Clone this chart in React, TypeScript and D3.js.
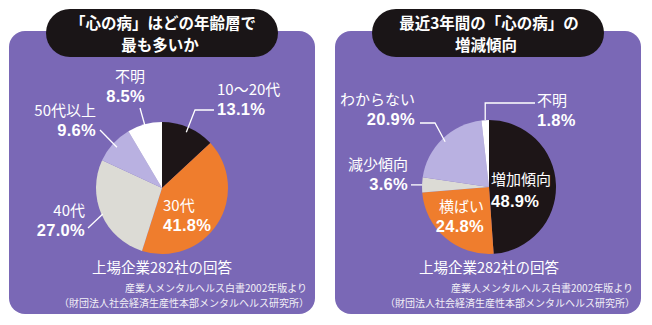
import React from 'react';
import * as d3 from 'd3';

const leftCats = ['10〜20代', '30代', '40代', '50代以上', '不明'];
const leftValues = [13.1, 41.8, 27.0, 9.6, 8.5];
const rightCats = ['増加傾向', '横ばい', '減少傾向', 'わからない', '不明'];
const rightValues = [48.9, 24.8, 3.6, 20.9, 1.8];
const sliceColors = ['#1d1517', '#ef7d2d', '#dcdbd5', '#b9b1e1', '#ffffff'];

const leftTitle = ['「心の病」はどの年齢層で', '最も多いか'];
const rightTitle = ['最近3年間の「心の病」の', '増減傾向'];
const subtitle = '上場企業282社の回答';
const source1 = '産業人メンタルヘルス白書2002年版より';
const source2 = '（財団法人社会経済生産性本部メンタルヘルス研究所）';

const FONT = '"Noto Sans CJK JP", "Noto Sans", sans-serif';
const NUMFONT = '"Liberation Sans", Arial, sans-serif';
const PURPLE = '#7a68b6';

type LabelLayout = {
  x: number;
  y: number;
  anchor: 'start' | 'end';
  rf?: number;
  elbow?: [number, number][];
  horiz?: number;
};

const leftLayout: LabelLayout[] = [
  { x: 217, y: 95, anchor: 'start', rf: 0.92, elbow: [[214, 110], [195, 110]] },
  { x: 163, y: 211, anchor: 'start' },
  { x: 85, y: 216, anchor: 'end', rf: 0.98, elbow: [[88, 228]] },
  { x: 96, y: 116, anchor: 'end', rf: 0.92, elbow: [[100, 130]] },
  { x: 145, y: 82, anchor: 'end', rf: 0.97, elbow: [[140, 108]] },
];

const rightLayout: LabelLayout[] = [
  { x: 491, y: 185, anchor: 'start' },
  { x: 484, y: 212, anchor: 'end' },
  { x: 408, y: 170, anchor: 'end', rf: 1.0, horiz: 411 },
  { x: 415, y: 105, anchor: 'end', rf: 0.94, elbow: [[420, 123], [435, 123]] },
  { x: 537, y: 106, anchor: 'start', rf: 1.0, elbow: [[535, 103], [-1, 103]] },
];

function Panel({
  x0,
  cx,
  cy,
  r,
  cats,
  values,
  layout,
  title,
}: {
  x0: number;
  cx: number;
  cy: number;
  r: number;
  cats: string[];
  values: number[];
  layout: LabelLayout[];
  title: string[];
}) {
  const pie = d3.pie<number>().sort(null).value((d) => d)(values);
  const arc = d3.arc<d3.PieArcDatum<number>>().innerRadius(0).outerRadius(r);
  const panelW = 306;
  const midX = x0 + panelW / 2;
  return (
    <g>
      <rect x={x0} y={31} width={panelW} height={283} rx={16} ry={16} fill={PURPLE} />
      <rect x={midX - 116} y={9} width={232} height={48} rx={24} ry={24} fill="#1a1517" />
      <text x={midX + 1} y={28.5} textAnchor="middle" fill="#fff" fontSize={15.5} fontWeight="bold" fontFamily={FONT}>
        {title[0]}
      </text>
      <text x={midX - 2} y={51} textAnchor="middle" fill="#fff" fontSize={15.5} fontWeight="bold" fontFamily={FONT}>
        {title[1]}
      </text>
      <g transform={`translate(${cx},${cy})`}>
        {pie.map((p, i) => (
          <path key={i} d={arc(p) || ''} fill={sliceColors[i]} />
        ))}
      </g>
      {pie.map((p, i) => {
        const L = layout[i];
        if (L.rf === undefined) return null;
        const a = (p.startAngle + p.endAngle) / 2;
        const px = cx + r * L.rf * Math.sin(a);
        const py = cy - r * L.rf * Math.cos(a);
        let pts: [number, number][] = [];
        if (L.horiz !== undefined) {
          pts = [[L.horiz, py], [px, py]];
        } else {
          pts = (L.elbow || []).map(([ex, ey]) => [ex < 0 ? px : ex, ey] as [number, number]);
          pts.push([px, py]);
        }
        const line = d3.line()(pts) || '';
        return <path key={'l' + i} d={line} fill="none" stroke="#fff" strokeWidth={1.3} />;
      })}
      {cats.map((c, i) => {
        const L = layout[i];
        const gap = i === 0 && L.rf === undefined ? 22 : 19.5;
        return (
          <g key={'t' + i} fill="#fff" textAnchor={L.anchor}>
            <text x={L.x} y={L.y} fontSize={15} fontFamily={FONT}>
              {c}
            </text>
            <text x={L.x} y={L.y + gap} fontSize={16.5} fontWeight="bold" fontFamily={NUMFONT} letterSpacing={0.3}>
              {d3.format('.1f')(values[i]) + '%'}
            </text>
          </g>
        );
      })}
      <text x={cx} y={273} textAnchor="middle" fill="#fff" fontSize={14.5} fontFamily={FONT}>
        {subtitle}
      </text>
      <text x={x0 + 298} y={292} textAnchor="end" fill="#f2f0f6" fontSize={10} fontFamily={FONT}>
        {source1}
      </text>
      <text x={x0 + 300} y={306.5} textAnchor="end" fill="#f2f0f6" fontSize={10} fontFamily={FONT}>
        {source2}
      </text>
    </g>
  );
}

export default function App() {
  return (
    <div style={{ position: 'absolute', left: 0, top: 0 }}>
      <svg width={652} height={325} style={{ display: 'block', background: '#fff' }}>
        <Panel x0={9} cx={162} cy={188} r={66} cats={leftCats} values={leftValues} layout={leftLayout} title={leftTitle} />
        <Panel x0={335} cx={489} cy={187} r={67} cats={rightCats} values={rightValues} layout={rightLayout} title={rightTitle} />
      </svg>
    </div>
  );
}
